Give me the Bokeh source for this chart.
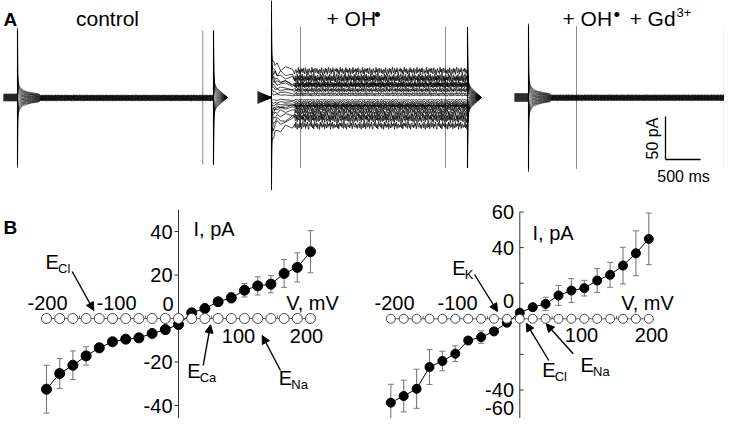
import numpy as np
from bokeh.plotting import figure
from bokeh.layouts import column, row
from bokeh.models import Range1d, Arrow, NormalHead, Whisker, TeeHead, ColumnDataSource
from bokeh.embed import file_html
from bokeh.resources import INLINE
from bokeh.core.properties import value

FONT = "Liberation Sans"

# ---------------- data ----------------
voltages = [-200, -180, -160, -140, -120, -100, -80, -60, -40, -20, 0,
            20, 40, 60, 80, 100, 120, 140, 160, 180, 200]
# B left: I-V (mean, SEM) in pA
i_left = [-32.5, -25.3, -21.5, -17.2, -13.5, -10.7, -9.5, -8.9, -6.9, -5.1, -2.8,
          2.6, 4.6, 7.7, 9.5, 13.0, 15.0, 15.8, 20.7, 23.5, 30.7]
e_left = [11.0, 6.9, 6.6, 4.2, 1.8, 1.5, 1.2, 1.0, 1.0, 1.0, 1.0,
          1.0, 1.0, 1.5, 2.3, 3.1, 4.2, 4.0, 6.4, 6.7, 9.7]
# B right
i_right = [-47.1, -43.4, -39.3, -27.1, -23.7, -19.6, -12.2, -10.3, -7.1, -2.2, 3.4,
           6.5, 8.4, 13.1, 15.9, 17.2, 21.5, 24.7, 29.9, 36.8, 44.9]
e_right = [10.3, 8.9, 11.0, 9.8, 5.5, 4.4, 1.5, 3.5, 1.5, 1.0, 1.0,
           1.0, 3.7, 5.6, 6.7, 4.4, 6.7, 7.0, 10.3, 12.6, 14.5]
ytick_left = [40, 20, -20, -40]
ytick_left_labels = ["40", "20", "-20", "-40"]
ytick_right = [60, 40, 20, -20, -40, -60]
ytick_right_labels = ["60", "40", "", "", "-40", "-60"]
xtick_minor = [-200, -150, -100, -50, 0, 50, 100, 150, 200]
xtick_labels = ["-200", "-100", "0", "100", "200"]

# A: current traces (pA) per sweep
ctrl_level = [-3.6, -3.2, -2.9, -2.6, -2.3, -2.0, -1.7, -1.4, -1.1, -0.8, -0.5,
              -0.2, 0.1, 0.4, 0.7, 1.0, 1.3, 1.6, 1.9, 2.2, 2.6]
gd_level = [-3.4, -3.0, -2.7, -2.4, -2.1, -1.8, -1.5, -1.2, -0.9, -0.6, -0.3,
            0.0, 0.3, 0.6, 0.9, 1.2, 1.5, 1.8, 2.1, 2.4, 2.8]
oh_level = i_left
oh_noise_amp = [5.0, 4.5, 4.0, 3.5, 3.0, 2.5, 2.0, 1.8, 1.5, 1.2, 1.0,
                1.2, 1.5, 1.8, 2.0, 2.5, 3.0, 3.5, 4.0, 4.5, 5.0]
trans_t = [0, 2, 6, 15, 30, 50, 80, 130, 200, 300]                # ms after step on
trans_frac = [1.0, 0.4, 0.25, 0.17, 0.13, 0.1, 0.075, 0.055, 0.038, 0.02]
end_t = [0, 4, 15, 40, 100, 200]                                  # ms after step off
end_frac = [1.0, 0.4, 0.22, 0.15, 0.09, 0.0]
noise = [0.3, -0.5, 0.8, -0.2, -0.9, 0.4, 0.1, -0.6, 0.7, -0.3, 0.5, -0.8, 0.2, 0.9,
         -0.4, -0.1, 0.6, -0.7, 0.3, -0.2, 0.8, -0.5, -0.9, 0.4, 0.0, 0.7, -0.3, 0.5,
         -0.6, 0.2, -0.8, 0.9, -0.1, 0.4, -0.4, 0.6, -0.7, 0.1, 0.3, -0.9, 0.8, -0.2,
         0.5, -0.5, 0.2, -0.3, 0.7, -0.8, 0.4, 0.1, -0.6, 0.9, -0.4, 0.3, -0.1, 0.6,
         -0.9, 0.5, -0.2, 0.8, -0.7, 0.2, 0.4, -0.5, 0.1, -0.3, 0.9, -0.6, 0.3, -0.8,
         0.6, -0.1, 0.5, -0.4, 0.7, -0.2, -0.7, 0.8, 0.0, -0.5, 0.4, -0.9, 0.2, 0.6,
         -0.3, 0.1, -0.6, 0.9, -0.2, 0.5, -0.8, 0.3, 0.7, -0.4, -0.1, 0.6, -0.5, 0.2,
         -0.7, 0.4]
T_ON, T_OFF, T_END = 200, 3000, 3200
spike_amp = [78, 82, 83]
cursor_ms = [[2847], [614, 2686], [886]]
scale_pa, scale_ms = 50, 500

# ---------------- layout geometry (px, origin at top-left of the layout) ----------------
PX_MS, PX_PA, A_BASE = 0.07, 0.86, 97.0
A_TOP, A_H = 0, 190
B_TOP, B_H = 190, 228


def mkfig(w, h, xr, yr):
    p = figure(width=w, height=h, x_range=Range1d(*xr), y_range=Range1d(*yr),
               x_axis_type=None, y_axis_type=None, output_backend="svg",
               toolbar_location=None, min_border=0, title=None)
    p.outline_line_color = None
    p.background_fill_color = "white"
    p.border_fill_color = "white"
    return p


def geo(left, top, w, h, xr, yr):
    return dict(left=left, top=top, w=w, h=h, xr=xr, yr=yr)


def P(g, px, py):
    x = g["xr"][0] + (px - g["left"]) / g["w"] * (g["xr"][1] - g["xr"][0])
    y = g["yr"][1] - (py - g["top"]) / g["h"] * (g["yr"][1] - g["yr"][0])
    return x, y


def txt(p, g, px, py, s, size=20, align="left", baseline="alphabetic", bold=False, angle=0.0):
    x, y = P(g, px, py)
    p.text(x=[x], y=[y], text=[s], text_font=value(FONT), text_font_size=f"{size}px",
           text_align=align, text_baseline=baseline, angle=angle,
           text_font_style="bold" if bold else "normal", text_color="black")


def arrow(p, g, a, b):
    x0, y0 = P(g, *a)
    x1, y1 = P(g, *b)
    p.add_layout(Arrow(end=NormalHead(size=8, fill_color="black", line_color="black", line_width=1),
                       x_start=x0, y_start=y0, x_end=x1, y_end=y1,
                       line_color="black", line_width=1.4))


# ---------------- panel A ----------------
panelsA = [(0, 250, 3), (250, 257, 257), (507, 217, 514)]
levels = [ctrl_level, oh_level, gd_level]
namps = [[0.35] * 21, oh_noise_amp, [0.35] * 21]
pre_spread = [(4.0, 4.0), (7.0, 0.0), (4.6, 4.6)]
trace_width = [0.6, 0.8, 0.6]
n_samples = [120, 270, 120]

figsA, geosA = [], []
for j, (left, w, t0px) in enumerate(panelsA):
    xr = ((left - t0px) / PX_MS, (left + w - t0px) / PX_MS)
    yr = ((A_BASE - (A_TOP + A_H)) / PX_PA, (A_BASE - A_TOP) / PX_PA)
    p = mkfig(w, A_H, xr, yr)
    g = geo(left, A_TOP, w, A_H, xr, yr)
    step_t = np.linspace(T_ON + 330, T_OFF - 8, n_samples[j])
    xs_all, ys_all = [], []
    sp = spike_amp[j]
    for i, v in enumerate(voltages):
        wv = v / 200.0
        lev = levels[j][i]
        na = namps[j][i]
        xs = [0.0, T_ON]
        ys = [pre_spread[j][0] * wv, pre_spread[j][1] * wv]
        for m, (dt, f) in enumerate(zip(trans_t, trans_frac)):
            xs.append(T_ON + dt)
            nz = na * noise[(m + 7 * i) % len(noise)] if dt >= 15 else 0.0
            ys.append(lev + f * sp * wv + nz)
        for k, t in enumerate(step_t):
            xs.append(t)
            ys.append(lev + na * noise[(k + 13 * i) % len(noise)])
        xs.append(T_OFF)
        ys.append(lev)
        for dt, f in zip(end_t, end_frac):
            xs.append(T_OFF + dt)
            ys.append(-f * sp * wv)
        xs_all.append(xs)
        ys_all.append(ys)
    for c in cursor_ms[j]:
        p.segment(x0=[c], y0=[-sp], x1=[c], y1=[sp], line_color="#8a8a8a", line_width=1)
    p.multi_line(xs=xs_all, ys=ys_all, line_color="black", line_width=trace_width[j], line_alpha=0.9)
    p.segment(x0=[T_ON, T_OFF], y0=[-sp, -sp], x1=[T_ON, T_OFF], y1=[sp, sp],
              line_color="black", line_width=1.1)
    figsA.append(p)
    geosA.append(g)

pA1, pA2, pA3 = figsA
gA1, gA2, gA3 = geosA
TB = 18  # title baseline
txt(pA1, gA1, 3, 19, "A", size=19, bold=True)
txt(pA1, gA1, 107, TB, "control", size=21, align="center")
txt(pA2, gA2, 326, TB, "+ OH", size=21)
txt(pA2, gA2, 373.5, TB - 4, "\u2022", size=19)
txt(pA3, gA3, 562, TB, "+ OH", size=21)
txt(pA3, gA3, 613, TB - 4, "\u2022", size=19)
txt(pA3, gA3, 629, TB, "+ Gd", size=21)
txt(pA3, gA3, 676, TB - 6, "3+", size=13)

# scale bar
sx, sy = P(gA3, 665, 159)
pA3.segment(x0=[sx, sx], y0=[sy, sy], x1=[sx, sx + scale_ms], y1=[sy + scale_pa, sy],
            line_color="black", line_width=1.3)
txt(pA3, gA3, 652, 138, f"{scale_pa} pA", size=16, align="center", baseline="middle", angle=np.pi / 2)
txt(pA3, gA3, 683, 176, f"{scale_ms} ms", size=16, align="center", baseline="middle")


# ---------------- panel B ----------------
def iv_panel(left, w, x0px, px_mv, y0px, px_pa, cur, err, yt, ytl, ylim, tick_dir,
             open_size, fill_size, xlab_pos, ylab_px, ilab, vlab):
    xr = ((left - x0px) / px_mv, (left + w - x0px) / px_mv)
    yr = ((y0px - (B_TOP + B_H)) / px_pa, (y0px - B_TOP) / px_pa)
    p = mkfig(w, B_H, xr, yr)
    g = geo(left, B_TOP, w, B_H, xr, yr)
    tl = 4.0 / px_mv
    # x axis line & ticks
    p.line(x=voltages, y=[0] * len(voltages), line_color="#555555", line_width=0.9)
    p.segment(x0=xtick_minor, y0=[0] * len(xtick_minor), x1=xtick_minor,
              y1=[3.0 / px_pa] * len(xtick_minor), line_color="#555555", line_width=0.9)
    # y axis
    p.segment(x0=[0], y0=[ylim[0]], x1=[0], y1=[ylim[1]], line_color="#333333", line_width=1)
    p.segment(x0=[0] * len(yt), y0=yt, x1=[tick_dir * tl] * len(yt), y1=yt,
              line_color="#333333", line_width=1)
    lx, _ = P(g, ylab_px, 0)
    ymin_lab = P(g, 0, B_TOP + B_H - 11)[1]
    yt_lab = [max(t, ymin_lab) for t in yt]
    p.text(x=[lx] * len(yt), y=yt_lab, text=ytl, text_font=value(FONT), text_font_size="20px",
           text_align="right", text_baseline="middle")
    # error bars
    src = ColumnDataSource(dict(x=voltages, up=[a + b for a, b in zip(cur, err)],
                                lo=[a - b for a, b in zip(cur, err)]))
    p.add_layout(Whisker(base="x", upper="up", lower="lo", source=src, line_color="#7a7a7a",
                         line_width=1.1,
                         upper_head=TeeHead(size=6, line_color="#7a7a7a", line_width=1),
                         lower_head=TeeHead(size=6, line_color="#7a7a7a", line_width=1)))
    p.line(x=voltages, y=cur, line_color="black", line_width=1)
    p.scatter(x=voltages, y=cur, size=fill_size, fill_color="black", line_color="black")
    p.scatter(x=voltages, y=[0] * len(voltages), size=open_size, fill_color="white",
              line_color="#333333", line_width=0.9)
    for s, (px, py) in zip(xtick_labels, xlab_pos):
        if s == "0":
            txt(p, g, px, py, s, align="right", baseline="middle")
        else:
            txt(p, g, px, py, s, align="center", baseline="middle")
    txt(p, g, ilab[0], ilab[1], "I, pA")
    txt(p, g, vlab[0], vlab[1], "V, mV", align="center", baseline="middle")
    return p, g


pB1, gB1 = iv_panel(0, 370, 178.0, 0.66, 318.0, 2.175, i_left, e_left,
                    ytick_left, ytick_left_labels, (-50, 50), -1, 10, 10,
                    [(47, 302), (116, 302), (173, 303), (238, 335), (306, 335)],
                    172, (193, 228), (312, 302))
pB2, gB2 = iv_panel(370, 354, 519.3, 0.645, 318.3, 1.78, i_right, e_right,
                    ytick_right, ytick_right_labels, (-60, 60), 1, 9, 9,
                    [(394, 302), (457, 302), (513.5, 300), (581, 334), (651, 334)],
                    513.5, (532, 232), (647, 302))

txt(pB1, gB1, 3, 227, "B", size=19, bold=True)


def elabel(p, g, px, pyc, sub):
    txt(p, g, px, pyc, "E", size=20, baseline="middle")
    txt(p, g, px + 12.5, pyc + 6.5, sub, size=13, baseline="middle")


elabel(pB1, gB1, 45, 261.5, "Cl")
elabel(pB1, gB1, 186.7, 370.5, "Ca")
elabel(pB1, gB1, 278.3, 377.5, "Na")
arrow(pB1, gB1, (71.7, 271), (93.3, 310))
arrow(pB1, gB1, (202.7, 365), (210, 324.3))
arrow(pB1, gB1, (280, 370), (261.7, 335))

elabel(pB2, gB2, 451.7, 267.5, "K")
elabel(pB2, gB2, 541.7, 369, "Cl")
elabel(pB2, gB2, 580, 364, "Na")
arrow(pB2, gB2, (474, 274), (497, 311))
arrow(pB2, gB2, (548.3, 360), (525.7, 322.7))
arrow(pB2, gB2, (572.7, 353.3), (545.7, 323.3))

layout = column(row(pA1, pA2, pA3), row(pB1, pB2))
open("out.html", "w").write(file_html(layout, INLINE))
